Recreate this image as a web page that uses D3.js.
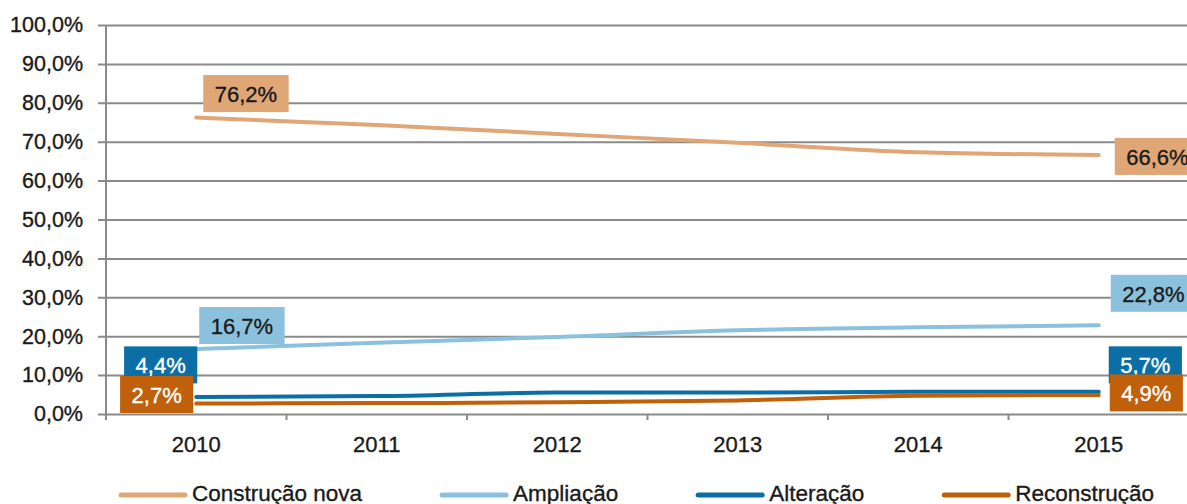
<!DOCTYPE html>
<html>
<head>
<meta charset="utf-8">
<script src="https://cdn.jsdelivr.net/npm/d3@7"></script>
<style>
  body { margin: 0; background: #fff; }
  text { font-family: "Liberation Sans", Arial, sans-serif; fill: #1a1a1a; stroke: #1a1a1a; stroke-width: 0.35px; }
  text.light { fill: #ffffff; stroke: #ffffff; }
</style>
</head>
<body>
<div id="chart"></div>
<script>
// data
var years = ['2010', '2011', '2012', '2013', '2014', '2015'];
var seriesNames = ['Construção nova', 'Ampliação', 'Alteração', 'Reconstrução'];
var construcaoNova = [0.762, 0.743, 0.720, 0.697, 0.673, 0.666];
var ampliacao = [0.167, 0.183, 0.198, 0.215, 0.223, 0.228];
var alteracao = [0.044, 0.046, 0.055, 0.055, 0.057, 0.057];
var reconstrucao = [0.027, 0.028, 0.030, 0.035, 0.047, 0.049];
var yTicks = [0, 0.1, 0.2, 0.3, 0.4, 0.5, 0.6, 0.7, 0.8, 0.9, 1.0];

var colors = ['#dfa676', '#8cc1dd', '#0b6fa6', '#c0600b'];
var lightText = [false, false, true, true];
// label box placement relative to the first / last point: [dx, dy, side]
// side 'l' = box starts at px+dx, 'r' = box ends at px+dx
var placeStart = [[7, -24, 'l'], [3, -23.5, 'l'], [1, -32, 'r'], [-3, -9, 'r']];
var placeEnd = [[16, 1.5, 'l'], [12, -32, 'l'], [10, -27, 'l'], [11, -2, 'l']];

var values = [construcaoNova, ampliacao, alteracao, reconstrucao];

var W = 1187, H = 504;
var margin = { top: 25, left: 106, bottom: 90, right: -2 };

var pt = d3.formatLocale({ decimal: ',', thousands: '.', grouping: [3], currency: ['', '€'] });
var fmt = pt.format('.1%');

var svg = d3.select('#chart').append('svg')
    .attr('width', W)
    .attr('height', H);

var x = d3.scaleBand()
    .domain(years)
    .range([margin.left, W - margin.right])
    .paddingInner(0)
    .paddingOuter(0);

var y = d3.scaleLinear()
    .domain([0, 1])
    .range([H - margin.bottom, margin.top]);

var cx = function (d) { return x(d) + x.bandwidth() / 2; };

// gridlines + y axis
var yAxis = d3.axisLeft(y)
    .tickValues(yTicks)
    .tickFormat(fmt)
    .tickSize(8)
    .tickPadding(15);

var gy = svg.append('g')
    .attr('transform', 'translate(' + margin.left + ',0)')
    .call(yAxis);
gy.select('.domain').remove();
gy.selectAll('.tick line')
    .attr('x1', -8)
    .attr('x2', W)
    .attr('stroke', '#8a8a8a')
    .attr('stroke-width', 2);
gy.selectAll('.tick text')
    .style('font-size', '21.5px');

// vertical axis line
svg.append('line')
    .attr('x1', margin.left).attr('x2', margin.left)
    .attr('y1', y(1)).attr('y2', y(0) + 6)
    .attr('stroke', '#8a8a8a')
    .attr('stroke-width', 2);

// x axis
var xAxis = d3.axisBottom(x)
    .tickSize(0)
    .tickPadding(22);

var gx = svg.append('g')
    .attr('transform', 'translate(0,' + y(0) + ')')
    .call(xAxis);
gx.select('.domain').remove();
gx.selectAll('.tick text')
    .style('font-size', '22px');

svg.append('g').selectAll('line')
    .data(years.slice(1))
    .join('line')
    .attr('x1', d => x(d)).attr('x2', d => x(d))
    .attr('y1', y(0)).attr('y2', y(0) + 6)
    .attr('stroke', '#8a8a8a')
    .attr('stroke-width', 2);

// lines
var line = d3.line()
    .x((d, i) => cx(years[i]))
    .y(d => y(d))
    .curve(d3.curveMonotoneX);

svg.append('g').selectAll('path')
    .data(values)
    .join('path')
    .attr('d', d => line(d))
    .attr('fill', 'none')
    .attr('stroke', (d, i) => colors[i])
    .attr('stroke-width', 4)
    .attr('stroke-linecap', 'round');

// data labels
function addLabel(g, txt, px, py, place, i) {
    var t = g.append('text')
        .text(txt)
        .classed('light', lightText[i])
        .style('font-size', '22px')
        .attr('text-anchor', 'middle')
        .attr('dominant-baseline', 'central');
    var w = t.node().getComputedTextLength() + 23;
    var h = 37;
    var left = place[2] === 'r' ? px + place[0] - w : px + place[0];
    var top = py + place[1] - h / 2;
    g.insert('rect', 'text')
        .attr('x', left).attr('y', top)
        .attr('width', w).attr('height', h)
        .attr('fill', colors[i]);
    t.attr('x', left + w / 2).attr('y', top + h / 2 + 1);
}

values.forEach(function (v, i) {
    var n = v.length - 1;
    addLabel(svg.append('g'), fmt(v[0]), cx(years[0]), y(v[0]), placeStart[i], i);
    addLabel(svg.append('g'), fmt(v[n]), cx(years[n]), y(v[n]), placeEnd[i], i);
});

// legend
var legend = svg.append('g').attr('transform', 'translate(121,495)');
var lx = 0;
seriesNames.forEach(function (name, i) {
    var item = legend.append('g').attr('transform', 'translate(' + lx + ',0)');
    item.append('line')
        .attr('x1', 0).attr('x2', 64)
        .attr('y1', 0).attr('y2', 0)
        .attr('stroke', colors[i])
        .attr('stroke-width', 5)
        .attr('stroke-linecap', 'round');
    var t = item.append('text')
        .attr('x', 71)
        .attr('y', 6)
        .style('font-size', '22.5px')
        .text(name);
    lx += 71 + t.node().getComputedTextLength() + 80;
});
</script>
</body>
</html>
